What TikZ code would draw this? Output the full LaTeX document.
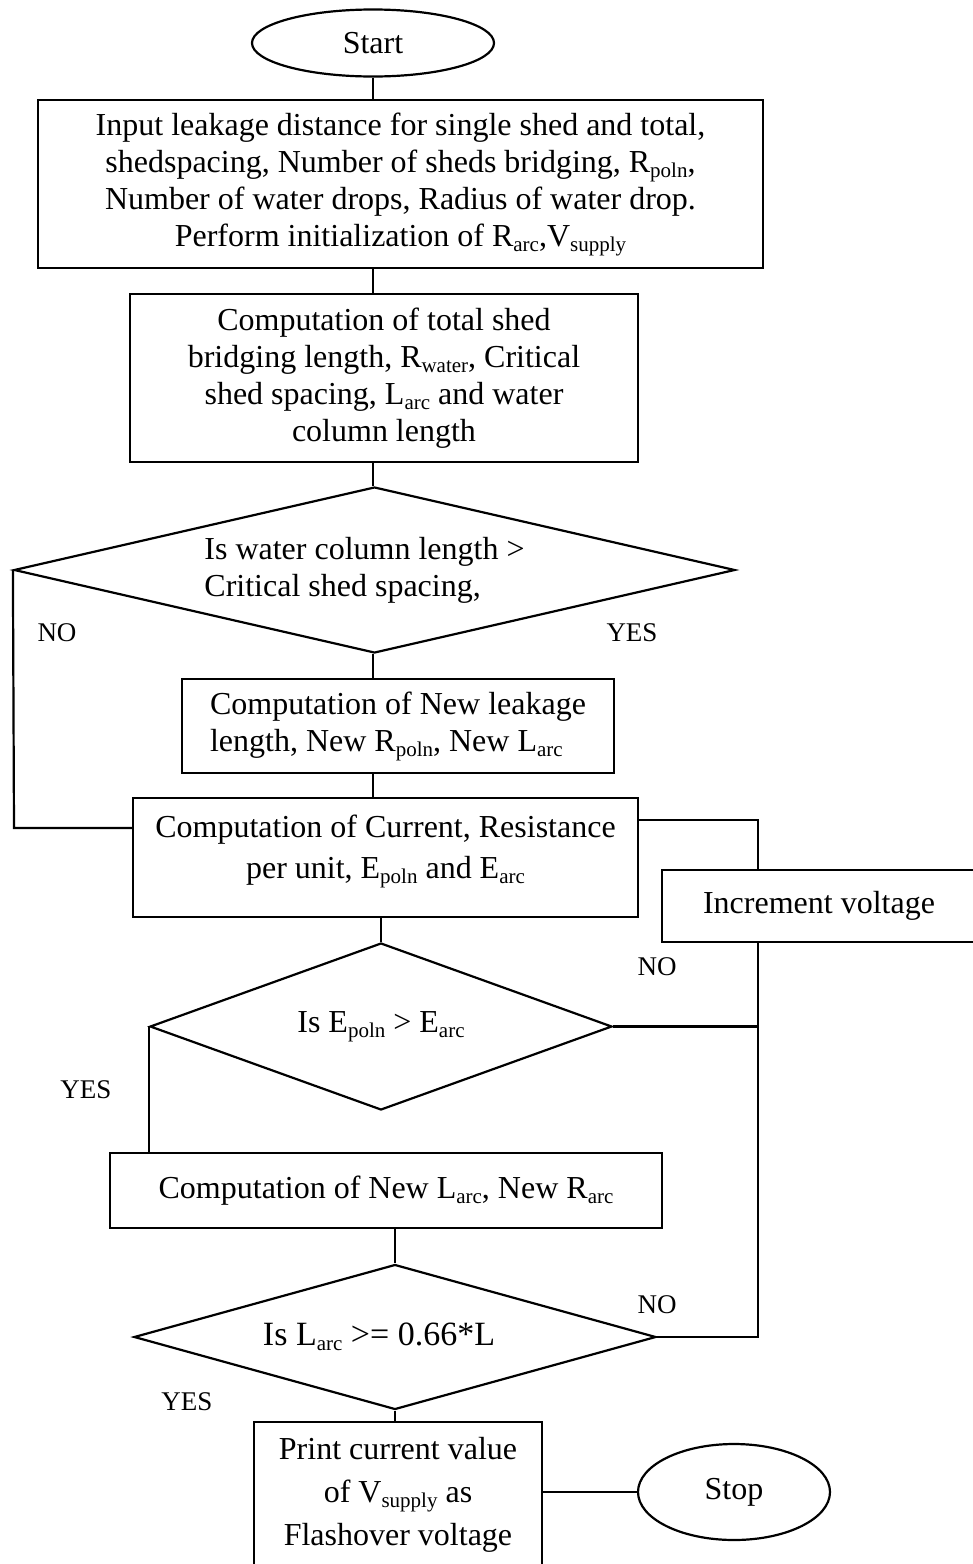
\documentclass[tikz,border=0pt]{standalone}
\usepackage{fontspec}
\setmainfont{Liberation Serif}
\usetikzlibrary{shapes.geometric}
\newcommand{\lowtxt}[1]{\raisebox{-5pt}{\fontsize{21}{21}\selectfont #1}}
\tikzset{
 chart/.style={x=1pt,y=-1pt,line width=2.2pt,font=\fontsize{32}{37}\selectfont},
 terminal/.style={ellipse,draw,inner sep=0pt},
 process/.style={rectangle,draw,inner sep=0pt,align=center},
 decision/.style={diamond,draw,inner sep=0pt,align=center},
 answer/.style={font=\fontsize{27}{27}\selectfont},
 link/.style={draw,line width=2.2pt}
}

\begin{document}
\begin{tikzpicture}[chart]
 \useasboundingbox (0,0) rectangle (973,1564);
 % main column
 \node[terminal,minimum width=242pt,minimum height=67pt] (start) at (373,43) {Start};
 \node[process,minimum width=725pt,minimum height=168pt] (input) at (400.5,184)
  {Input leakage distance for single shed and total,\\
   shedspacing, Number of sheds bridging, R\lowtxt{poln},\\
   Number of water drops, Radius of water drop.\\
   Perform initialization of R\lowtxt{arc},V\lowtxt{supply}};
 \node[process,minimum width=508pt,minimum height=168pt] (bridge) at (384,378)
  {Computation of total shed\\
   bridging length, R\lowtxt{water}, Critical\\
   shed spacing, L\lowtxt{arc} and water\\
   column length};
 \node[decision,aspect=4.34,minimum width=721pt,minimum height=166pt,align=left] (test1) at (374.5,570)
  {Is water column length >\hspace*{20pt}\\ Critical shed spacing,};
 \node[process,minimum width=432pt,minimum height=94pt,align=left] (newlen) at (398,726)
  {Computation of New leakage\\ length, New R\lowtxt{poln}, New L\lowtxt{arc}};
 \node[process,minimum width=505pt,minimum height=119pt,font=\fontsize{32}{41}\selectfont] (current) at (385.5,857.5)
  {Computation of Current, Resistance\\ per unit, E\lowtxt{poln} and E\lowtxt{arc}\\[-20pt]};
 \node[process,minimum width=314pt,minimum height=72pt] (incr) at (819,906) {Increment voltage};
 \node[decision,aspect=2.77,minimum width=462pt,minimum height=167pt] (test2) at (381,1026.5)
  {Is E\lowtxt{poln} > E\lowtxt{arc}};
 \node[process,minimum width=552pt,minimum height=75pt] (newarc) at (386,1190.5)
  {Computation of New L\lowtxt{arc}, New R\lowtxt{arc}};
 \node[decision,aspect=3.6,minimum width=522pt,minimum height=145pt,font=\fontsize{34}{37}\selectfont] (test3) at (395,1337)
  {Is L\lowtxt{arc} >= 0.66*L\hspace*{32pt}};
 \node[process,minimum width=288pt,minimum height=146pt,font=\fontsize{32}{43}\selectfont] (result) at (398,1495)
  {Print current value\\ of V\lowtxt{supply} as\\ Flashover voltage};
 \node[terminal,minimum width=192pt,minimum height=96pt] (stop) at (734,1492) {Stop};
 % branch labels
 \node[answer] (no1) at (57,633) {NO};
 \node[answer] (yes1) at (632,633) {YES};
 \node[answer] (no2) at (657,967) {NO};
 \node[answer] (yes2) at (86,1090) {YES};
 \node[answer] (no3) at (657,1305) {NO};
 \node[answer] (yes3) at (187,1402) {YES};
 % turning points
 \coordinate (noturn) at (14,828);
 \coordinate (upturn) at (758,820);
 % connectors
 \draw[link] (start) -- (start |- input.north);
 \draw[link] (start |- input.south) -- (start |- bridge.north);
 \draw[link] (start |- bridge.south) -- (start |- test1.north);
 \draw[link] (start |- test1.south) -- (start |- newlen.north);
 \draw[link] (start |- newlen.south) -- (start |- current.north);
 \draw[link] (test1.west) -- (noturn) -- (noturn -| current.west);
 \draw[link] (upturn -| current.east) -- (upturn) -- (upturn |- incr.north);
 \draw[link] (test2.north |- current.south) -- (test2.north);
 \draw[link] (test2.east) -- (test2.east -| upturn);
 \draw[link] (upturn |- incr.south) -- (upturn |- test3.east) -- (test3.east);
 \draw[link] (test2.west) -- (test2.west |- newarc.north);
 \draw[link] (test3.north |- newarc.south) -- (test3.north);
 \draw[link] (test3.south) -- (test3.south |- result.north);
 \draw[link] (result.east |- stop.west) -- (stop.west);
\end{tikzpicture}
\end{document}
